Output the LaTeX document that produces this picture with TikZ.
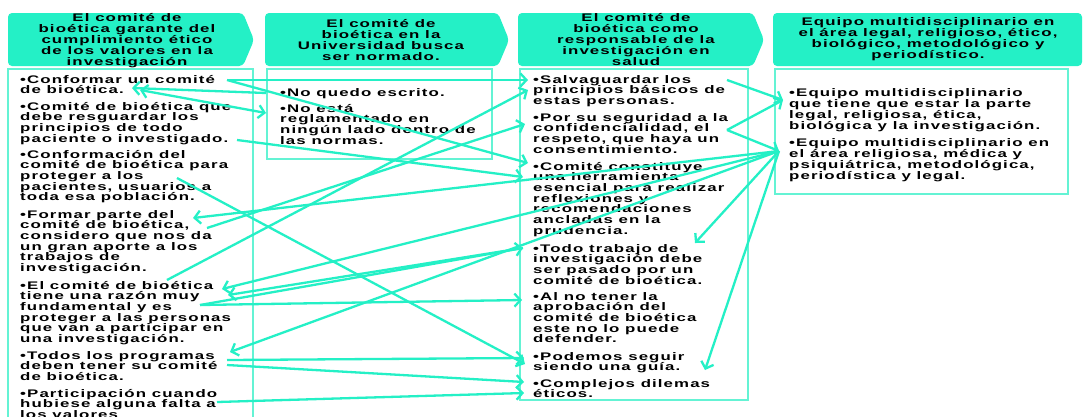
\documentclass[tikz,border=0pt]{standalone}
\usepackage{fontspec}
\usetikzlibrary{arrows.meta}
\newfontfamily\boxfont{Liberation Sans}[FakeStretch=1.53,LetterSpace=10]
\definecolor{mint}{RGB}{36,240,198}
\definecolor{mintline}{RGB}{100,243,212}
\tikzset{
  head/.style={fill=mint, rounded corners=4pt},
  headtext/.style={font=\boxfont\bfseries\fontsize{11}{10.9}\selectfont, align=center, inner sep=0, anchor=base},
  panel/.style={draw=mintline, line width=1.4pt, fill=white},
  item/.style={font=\boxfont\bfseries\fontsize{11}{10.7}\selectfont, align=left, inner sep=0, anchor=base west},
  link/.style={draw=mint, line width=2.3pt, -{Straight Barb[length=6pt,width=13pt,line width=2.3pt]}},
  both/.style={link, {Straight Barb[length=6pt,width=13pt,line width=2.3pt]}-{Straight Barb[length=6pt,width=13pt,line width=2.3pt]}},
}

\begin{document}
\begin{tikzpicture}[x=1pt, y=-1pt]
    \clip (0,0) rectangle (1083,416);
    \fill[white] (0,0) rectangle (1083,416);
    % cabeceras
    \fill[head] (8,13) -- (243,13) -- (254,40) -- (243,66) -- (8,66) -- cycle;
    \fill[head] (265,13) -- (498,13) -- (509,40) -- (498,66) -- (265,66) -- cycle;
    \fill[head] (518,13) -- (753,13) -- (764,40) -- (753,66) -- (518,66) -- cycle;
    \fill[head] (773,13) rectangle (1082,66);
    % el ancla base es la ultima linea
    \node[headtext] (h1) at (127,65.5) {El comité de\\bioética garante del\\cumplimiento ético\\de los valores en la\\investigación};
    \node[headtext] (h2) at (381,60) {El comité de\\bioética en la\\Universidad busca\\ser normado.};
    \node[headtext] (h3) at (636,65) {El comité de\\bioética como\\responsable de la\\investigación en\\salud};
    \node[headtext] (h4) at (928,58) {Equipo multidisciplinario en\\el área legal, religioso, ético,\\biológico, metodológico y\\periodístico.};
    % paneles
    \draw[panel] (8,69) rectangle (253,430);
    \draw[panel] (267,69) rectangle (492,159);
    \draw[panel] (520,69) rectangle (748,400);
    \draw[panel] (775,69) rectangle (1068,194);
    % columna 1
    \node[item] (a1) at (20,93.7) {•Conformar un comité\\de bioética.};
    \node[item] (a2) at (20,142.1) {•Comité de bioética que\\debe resguardar los\\principios de todo\\paciente o investigado.};
    \node[item] (a3) at (20,200.8) {•Conformación del\\comité de bioética para\\proteger a los\\pacientes, usuarios a\\toda esa población.};
    \node[item] (a4) at (20,271.5) {•Formar parte del\\comité de bioética,\\considero que nos da\\un gran aporte a los\\trabajos de\\investigación.};
    \node[item] (a5) at (20,342.5) {•El comité de bioética\\tiene una razón muy\\fundamental y es\\proteger a las personas\\que van a participar en\\una investigación.};
    \node[item] (a6) at (20,380.4) {•Todos los programas\\deben tener su comité\\de bioética.};
    \node[item] (a7) at (20,418.4) {•Participación cuando\\hubiese alguna falta a\\los valores};
    % columna 2
    \node[item] (b1) at (280,96) {•No quedo escrito.};
    \node[item] (b2) at (280,144.1) {•No está\\reglamentado en\\ningún lado dentro de\\las normas.};
    % columna 3
    \node[item] (s1) at (533,104.4) {•Salvaguardar los\\principios básicos de\\estas personas.};
    \node[item] (s2) at (533,153.1) {•Por su seguridad a la\\confidencialidad, el\\respeto, que haya un\\consentimiento.};
    \node[item] (s3) at (533,234.2) {•Comité constituye\\una herramienta\\esencial para realizar\\reflexiones y\\recomendaciones\\ancladas en la\\prudencia.};
    \node[item] (s4) at (533,284.1) {•Todo trabajo de\\investigación debe\\ser pasado por un\\comité de bioética.};
    \node[item] (s5) at (533,342.8) {•Al no tener la\\aprobación del\\comité de bioética\\este no lo puede\\defender.};
    \node[item] (s6) at (533,370.7) {•Podemos seguir\\siendo una guía.};
    \node[item] (s7) at (533,397.7) {•Complejos dilemas\\éticos.};
    % columna 4
    \node[item] (e1) at (789,129) {•Equipo multidisciplinario\\que tiene que estar la parte\\legal, religiosa, ética,\\biológica y la investigación.};
    \node[item] (e2) at (789,179) {•Equipo multidisciplinario en\\el área religiosa, médica y\\psiquiátrica, metodológica,\\periodística y legal.};
    % puntos de enlace
    \coordinate (a1r) at (227,80);
    \coordinate (a1d) at (132,88);
    \coordinate (a1e) at (140,90);
    \coordinate (a2p) at (237,140);
    \coordinate (a3r) at (177,178);
    \coordinate (a4r) at (193,218);
    \coordinate (a4c) at (207,228);
    \coordinate (a5t) at (167,280);
    \coordinate (a5r) at (222,289);
    \coordinate (a5s) at (228,295);
    \coordinate (a5f) at (200,305);
    \coordinate (a6r) at (230,352);
    \coordinate (a6a) at (227,360);
    \coordinate (a6b) at (227,365);
    \coordinate (a7r) at (217,402);
    \coordinate (b1l) at (266,93);
    \coordinate (b2l) at (266,113);
    \coordinate (s1l) at (528,80);
    \coordinate (s1p) at (528,90);
    \coordinate (s1r) at (727,80);
    \coordinate (s2l) at (525,124);
    \coordinate (s2r) at (727,130);
    \coordinate (s3l) at (528,163);
    \coordinate (s3h) at (523,177);
    \coordinate (s4l) at (523,248);
    \coordinate (s4r) at (695,243);
    \coordinate (s5l) at (522,300);
    \coordinate (s6l) at (524,358);
    \coordinate (s6s) at (525,364);
    \coordinate (s6r) at (705,370);
    \coordinate (s7l) at (524,382);
    \coordinate (s7e) at (524,393);
    \coordinate (e1l) at (783,100);
    \coordinate (e2l) at (779,151);
    % enlaces
    \draw[link] (a1r) -- (s1l);
    \draw[link] (a1r) -- (s3l);
    \draw[link] (b1l) -- (a1d);
    \draw[both] (a1e) -- (b2l);
    \draw[link] (a2p) -- (s3h);
    \draw[link] (a3r) -- (s6s);
    \draw[link] (e2l) -- (a4r);
    \draw[link] (a4c) -- (s2l);
    \draw[link] (a5t) -- (s1p);
    \draw[link] (e2l) -- (a5r);
    \draw[link] (s4l) -- (a5s);
    \draw[link] (a5f) -- (s5l);
    \draw[link] (a5f) -- (s4l);
    \draw[link] (e2l) -- (a6r);
    \draw[link] (a6a) -- (s6l);
    \draw[link] (a6b) -- (s7l);
    \draw[link] (a7r) -- (s7e);
    \draw[link] (s1r) -- (e1l);
    \draw[link] (s2r) -- (e1l);
    \draw[link] (s2r) -- (e2l);
    \draw[link] (e2l) -- (s4r);
    \draw[link] (e2l) -- (s6r);
\end{tikzpicture}
\end{document}
